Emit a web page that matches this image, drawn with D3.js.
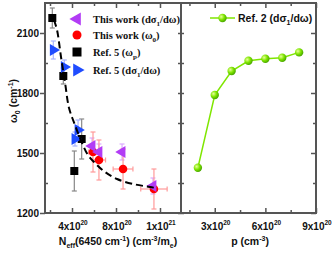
<!DOCTYPE html>
<html>
<head>
<meta charset="utf-8">
<script src="https://cdn.jsdelivr.net/npm/d3@7"></script>
<style>
  body { margin: 0; background: #fff; }
  text { font-family: "Liberation Sans", Arial, sans-serif; font-weight: bold; fill: #111; }
  .serif { font-family: "Liberation Serif", "Times New Roman", serif; }
</style>
</head>
<body>
<div id="chart"></div>
<script>
// ---- data ----
// This work (d sigma1 / d omega) - purple left triangles
const workSigmaN = [5.82e20, 6.45e20, 8.55e20, 11.36e20];
const workSigmaW = [1535, 1505, 1505, 1335];
const workSigmaErr = [40, 40, 40, 40];
// This work (omega0) - red circles
const workW0N = [5.91e20, 6.45e20, 8.64e20, 11.45e20];
const workW0 = [1505, 1465, 1420, 1320];
const workW0ErrN = [0.4e20, 0.6e20, 0.9e20, 1.2e20];
const workW0ErrW = [100, 100, 100, 100];
// Ref. 5 (omega_p) - black squares
const ref5WpN = [2.21e20, 3.21e20, 4.88e20, 4.21e20];
const ref5Wp = [2175, 1885, 1570, 1410];
const ref5WpErr = [50, 40, 100, 100];
// Ref. 5 (d sigma1 / d omega) - blue right triangles
const ref5SigmaN = [2.3e20, 3.3e20, 4.55e20, 4.27e20];
const ref5SigmaW = [2015, 1930, 1615, 1570];
const ref5SigmaErr = [45, 35, 50, 35];
// dashed fit curve
const fitN = [2.36e20, 2.64e20, 3.0e20, 3.36e20, 3.73e20, 4.27e20, 4.91e20, 5.45e20, 6.09e20, 7.0e20, 8.09e20, 9.55e20, 11.09e20, 11.64e20];
const fitW = [2165, 2115, 1980, 1855, 1725, 1640, 1550, 1490, 1450, 1405, 1370, 1345, 1330, 1325];
// Ref. 2 (d sigma1 / d omega) - green, right panel
const ref2P = [2e20, 3e20, 4e20, 5e20, 6e20, 7e20, 8e20];
const ref2W = [1426, 1790, 1910, 1961, 1971, 1976, 2003];

// ticks
const yMajor = [1200, 1500, 1800, 2100];
const yMinor = [1350, 1650, 1950];
const nMajor = [4e20, 8e20, 1.2e21];
const nLabels = [["4x10", "20"], ["8x10", "20"], ["1x10", "21"]];
const nMinor = [2e20, 6e20, 1e21];
const pMajor = [3e20, 6e20, 9e20];
const pLabels = [["3x10", "20"], ["6x10", "20"], ["9x10", "20"]];
const pMinor = [1.5e20, 4.5e20, 7.5e20];

const W = 334, H = 258;
const yTop = 3, yBot = 213, x0 = 45, xm = 181, x1 = 316;
const frame = "#555";

const svg = d3.select("#chart").append("svg").attr("width", W).attr("height", H);
const defs = svg.append("defs");
const grad = defs.append("radialGradient").attr("id", "gball").attr("cx", "35%").attr("cy", "35%").attr("r", "65%");
grad.append("stop").attr("offset", "0%").attr("stop-color", "#e8ff9a");
grad.append("stop").attr("offset", "55%").attr("stop-color", "#7fe600");
grad.append("stop").attr("offset", "100%").attr("stop-color", "#4caa00");

const y = d3.scaleLinear().domain([1200, 2250]).range([yBot, yTop]);
const xN = d3.scaleLinear().domain([1.545e20, 13.91e20]).range([x0, xm]);
const xP = d3.scaleLinear().domain([1e20, 9e20]).range([xm, x1]);

function zip(a, b) { return a.map((v, i) => [v, b[i]]); }

// ---- axes (ticks) ----
function ticks(g, axis) { g.call(axis); g.select(".domain").remove(); g.selectAll("line").attr("stroke", frame).attr("stroke-width", 1.5); }
// left y: major outward, minor inward
svg.append("g").attr("transform", `translate(${x0},0)`).call(g => ticks(g, d3.axisLeft(y).tickValues(yMajor).tickSize(5).tickFormat("")));
svg.append("g").attr("transform", `translate(${x0},0)`).call(g => ticks(g, d3.axisLeft(y).tickValues(yMinor).tickSize(-3).tickFormat("")));
// divider ticks (both sides)
svg.append("g").attr("transform", `translate(${xm - 3},0)`).call(g => ticks(g, d3.axisRight(y).tickValues(yMajor.concat(yMinor)).tickSize(6).tickFormat("")));
// right edge ticks
svg.append("g").attr("transform", `translate(${x1},0)`).call(g => ticks(g, d3.axisLeft(y).tickValues(yMajor).tickSize(5).tickFormat("")));
svg.append("g").attr("transform", `translate(${x1},0)`).call(g => ticks(g, d3.axisLeft(y).tickValues(yMinor).tickSize(3).tickFormat("")));
// x ticks, bottom and top, inward
[[xN, nMajor, nMinor], [xP, pMajor, pMinor]].forEach(([sc, maj, min]) => {
  svg.append("g").attr("transform", `translate(0,${yBot})`).call(g => ticks(g, d3.axisBottom(sc).tickValues(maj).tickSize(-5).tickFormat("")));
  svg.append("g").attr("transform", `translate(0,${yBot})`).call(g => ticks(g, d3.axisBottom(sc).tickValues(min).tickSize(-3).tickFormat("")));
  svg.append("g").attr("transform", `translate(0,${yTop})`).call(g => ticks(g, d3.axisTop(sc).tickValues(maj).tickSize(-5).tickFormat("")));
  svg.append("g").attr("transform", `translate(0,${yTop})`).call(g => ticks(g, d3.axisTop(sc).tickValues(min).tickSize(-3).tickFormat("")));
});

// frames
svg.append("rect").attr("x", x0).attr("y", yTop).attr("width", x1 - x0).attr("height", yBot - yTop)
  .attr("fill", "none").attr("stroke", frame).attr("stroke-width", 2);
svg.append("line").attr("x1", xm).attr("x2", xm).attr("y1", yTop).attr("y2", yBot).attr("stroke", frame).attr("stroke-width", 2);

// tick labels
svg.selectAll(".ylab").data(yMajor).enter().append("text")
  .attr("x", 39).attr("y", d => y(d) + 3.5).attr("text-anchor", "end").attr("font-size", 10).text(d => d);
function xLabels(sc, vals, labs) {
  vals.forEach((v, i) => {
    const t = svg.append("text").attr("x", sc(v) + 1).attr("y", 230).attr("text-anchor", "middle").attr("font-size", 10);
    t.append("tspan").text(labs[i][0]);
    t.append("tspan").attr("dy", -5).attr("font-size", 6.5).text(labs[i][1]);
  });
}
xLabels(xN, nMajor, nLabels);
xLabels(xP, pMajor, pLabels);

// axis titles
const yt = svg.append("text").attr("transform", "translate(17,101) rotate(-90)").attr("text-anchor", "middle").attr("font-size", 10.5);
yt.append("tspan").text("ω");
yt.append("tspan").attr("dy", 3).attr("font-size", 7).text("0");
yt.append("tspan").attr("dy", -3).text(" (cm");
yt.append("tspan").attr("dy", -4).attr("font-size", 7).text("-1");
yt.append("tspan").attr("dy", 4).text(")");

const xt = svg.append("text").attr("x", 118).attr("y", 245).attr("text-anchor", "middle").attr("font-size", 10.5);
xt.append("tspan").text("N");
xt.append("tspan").attr("dy", 3).attr("font-size", 7).text("eff");
xt.append("tspan").attr("dy", -3).text("(6450 cm");
xt.append("tspan").attr("dy", -4).attr("font-size", 7).text("-1");
xt.append("tspan").attr("dy", 4).text(") (cm");
xt.append("tspan").attr("dy", -4).attr("font-size", 7).text("-3");
xt.append("tspan").attr("dy", 4).text("/m");
xt.append("tspan").attr("dy", 3).attr("font-size", 7).text("e");
xt.append("tspan").attr("dy", -3).text(")");

const pt = svg.append("text").attr("x", 250).attr("y", 245).attr("text-anchor", "middle").attr("font-size", 10.5);
pt.append("tspan").text("p (cm");
pt.append("tspan").attr("dy", -4).attr("font-size", 7).text("-3");
pt.append("tspan").attr("dy", 4).text(")");

// ---- left panel marks ----
const left = svg.append("g");
function vErr(xs, ys, es, color) {
  xs.forEach((xv, i) => {
    const cx = xN(xv), ya = y(ys[i] + es[i]), yb = y(ys[i] - es[i]);
    left.append("line").attr("x1", cx).attr("x2", cx).attr("y1", ya).attr("y2", yb).attr("stroke", color).attr("stroke-width", 1.2);
    [ya, yb].forEach(yy => left.append("line").attr("x1", cx - 2.5).attr("x2", cx + 2.5).attr("y1", yy).attr("y2", yy).attr("stroke", color).attr("stroke-width", 1.2));
  });
}
function hErr(xs, ys, es, color) {
  xs.forEach((xv, i) => {
    const cy = y(ys[i]), xa = xN(xv - es[i]), xb = xN(xv + es[i]);
    left.append("line").attr("x1", xa).attr("x2", xb).attr("y1", cy).attr("y2", cy).attr("stroke", color).attr("stroke-width", 1.2);
    [xa, xb].forEach(xx => left.append("line").attr("x1", xx).attr("x2", xx).attr("y1", cy - 2.5).attr("y2", cy + 2.5).attr("stroke", color).attr("stroke-width", 1.2));
  });
}
vErr(ref5WpN, ref5Wp, ref5WpErr, "#888");
vErr(ref5SigmaN, ref5SigmaW, ref5SigmaErr, "#a8b4ff");
vErr(workSigmaN, workSigmaW, workSigmaErr, "#dcaaff");
vErr(workW0N, workW0, workW0ErrW, "#ff9a9a");
hErr(workW0N, workW0, workW0ErrN, "#ff9a9a");

function tri(g, cx, cy, rot, color, size) {
  g.append("path").attr("d", d3.symbol().type(d3.symbolTriangle).size(size)())
    .attr("transform", `translate(${cx},${cy}) rotate(${rot})`).attr("fill", color);
}

zip(ref5WpN, ref5Wp).forEach(d => left.append("rect").attr("x", xN(d[0]) - 4).attr("y", y(d[1]) - 4).attr("width", 8).attr("height", 8).attr("fill", "#000"));
zip(ref5SigmaN, ref5SigmaW).forEach(d => tri(left, xN(d[0]), y(d[1]), 90, "#1f4cff", 60));
zip(workW0N, workW0).forEach(d => left.append("circle").attr("cx", xN(d[0])).attr("cy", y(d[1])).attr("r", 4.3).attr("fill", "#ff0000"));
zip(workSigmaN, workSigmaW).forEach(d => tri(left, xN(d[0]), y(d[1]), -90, "#b23cf5", 60));

// fit curve
left.append("path").datum(zip(fitN, fitW))
  .attr("d", d3.line().x(d => xN(d[0])).y(d => y(d[1])).curve(d3.curveCatmullRom))
  .attr("fill", "none").attr("stroke", "#000").attr("stroke-width", 2).attr("stroke-dasharray", "7,4");

// left legend
const legRows = [
  { y: 19, label: [["This work (dσ", 0], ["1", 1], ["/dω)", 0]] },
  { y: 35, label: [["This work (ω", 0], ["0", 1], [")", 0]] },
  { y: 52, label: [["Ref.  5 (ω", 0], ["p", 1], [")", 0]] },
  { y: 70, label: [["Ref. 5 (dσ", 0], ["1", 1], ["/dω)", 0]] }
];
tri(svg, 77, legRows[0].y, -90, "#b23cf5", 75);
svg.append("circle").attr("cx", 77).attr("cy", legRows[1].y).attr("r", 4.5).attr("fill", "#ff0000");
svg.append("rect").attr("x", 72.5).attr("y", legRows[2].y - 4.5).attr("width", 9).attr("height", 9).attr("fill", "#000");
tri(svg, 77, legRows[3].y, 90, "#1f4cff", 75);
legRows.forEach(r => {
  const t = svg.append("text").attr("class", "serif").attr("x", 93).attr("y", r.y + 4).attr("font-size", 10.5);
  let sub = 0;
  r.label.forEach(([s, isSub]) => {
    const dy = isSub ? 3 : (sub ? -3 : 0);
    t.append("tspan").attr("dy", dy).attr("font-size", isSub ? 7 : 10.5).text(s);
    sub = isSub;
  });
});

// ---- right panel ----
const right = svg.append("g");
right.append("path").datum(zip(ref2P, ref2W))
  .attr("d", d3.line().x(d => xP(d[0])).y(d => y(d[1])))
  .attr("fill", "none").attr("stroke", "#7fe600").attr("stroke-width", 1.5);
zip(ref2P, ref2W).forEach(d => right.append("circle").attr("cx", xP(d[0])).attr("cy", y(d[1])).attr("r", 4.2).attr("fill", "url(#gball)"));

svg.append("line").attr("x1", 210).attr("x2", 235).attr("y1", 18).attr("y2", 18).attr("stroke", "#7fe600").attr("stroke-width", 1.5);
svg.append("circle").attr("cx", 222.5).attr("cy", 18).attr("r", 4.2).attr("fill", "url(#gball)");
const rl = svg.append("text").attr("x", 238).attr("y", 22).attr("font-size", 10.5);
rl.append("tspan").text("Ref. 2 (dσ");
rl.append("tspan").attr("dy", 3).attr("font-size", 7).text("1");
rl.append("tspan").attr("dy", -3).text("/dω)");
</script>
</body>
</html>
